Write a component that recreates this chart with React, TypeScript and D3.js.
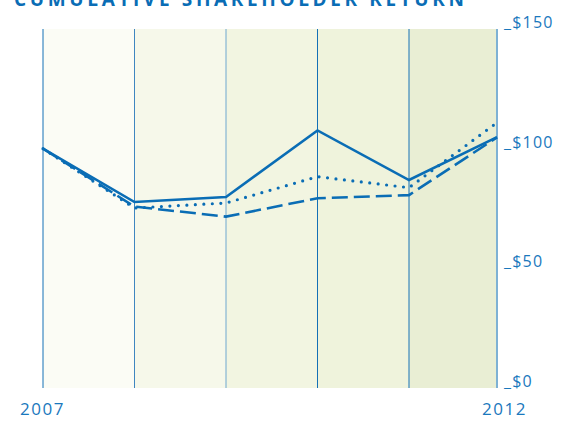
import React, { useEffect, useRef } from "react";
import * as d3 from "d3";

const years = [2007, 2008, 2009, 2010, 2011, 2012];
const solidSeries = [100, 77.7, 79.8, 107.6, 86.9, 104.8];
const dottedSeries = [100, 75.2, 77.3, 88.3, 83.7, 110.9];
const dashedSeries = [100, 75.8, 71.6, 79.3, 80.6, 104.7];
const yTicks = [0, 50, 100, 150];
const panelFills = ["#fbfcf5", "#f6f8ea", "#f2f5e1", "#eff3dc", "#e9eed4"];
const gridColors = ["#1470b6", "#3f86c0", "#6ea8d0", "#1470b6", "#1470b6", "#7eb1d4"];
const title = "CUMULATIVE SHAREHOLDER RETURN";

const BLUE = "#0a6db5";
const FONT = "'Open Sans', 'DejaVu Sans', sans-serif";

export default function App() {
  const svgRef = useRef<SVGSVGElement | null>(null);

  useEffect(() => {
    const svg = d3.select(svgRef.current);
    svg.selectAll("*").remove();

    const left = 43, right = 497, top = 29, bottom = 388;

    // last panel is a little narrower than the others
    const x = d3.scaleLinear()
      .domain([2007, 2011, 2012])
      .range([left, 409, right]);
    const y = d3.scaleLinear().domain([0, 150]).range([bottom, top]);

    // panels
    svg.append("g")
      .selectAll("rect")
      .data(years.slice(0, -1))
      .join("rect")
      .attr("x", (d) => x(d))
      .attr("y", top)
      .attr("width", (d, i) => x(years[i + 1]) - x(d))
      .attr("height", bottom - top)
      .attr("fill", (d, i) => panelFills[i]);

    // vertical grid lines
    svg.append("g")
      .selectAll("line")
      .data(years)
      .join("line")
      .attr("x1", (d) => x(d))
      .attr("x2", (d) => x(d))
      .attr("y1", top)
      .attr("y2", bottom)
      .attr("stroke", (d, i) => gridColors[i])
      .attr("stroke-width", (d, i) => (i === years.length - 1 ? 2 : 1));

    // title (cut off at the top, as in the source)
    svg.append("text")
      .attr("x", 14)
      .attr("y", 6)
      .attr("textLength", 450)
      .attr("lengthAdjust", "spacing")
      .attr("fill", BLUE)
      .style("font-family", FONT)
      .style("font-weight", 700)
      .style("font-size", "19px")
      .text(title);

    // y labels
    svg.append("g")
      .selectAll("text")
      .data(yTicks)
      .join("text")
      .attr("x", 504)
      .attr("y", (d) => y(d) - 1)
      .attr("fill", "#1a78bd")
      .style("font-family", FONT)
      .style("font-size", "16px")
      .style("letter-spacing", "1.2px")
      .text((d) => `_$${d}`);

    // x labels
    const xLabels = [years[0], years[years.length - 1]];
    svg.append("g")
      .selectAll("text")
      .data(xLabels)
      .join("text")
      .attr("x", (d, i) => (i === 0 ? x(d) - 23 : x(d) + 30))
      .attr("y", 415)
      .attr("text-anchor", (d, i) => (i === 0 ? "start" : "end"))
      .attr("fill", "#1a78bd")
      .style("font-family", FONT)
      .style("font-size", "17px")
      .style("letter-spacing", "1.5px")
      .text((d) => String(d));

    const line = d3.line<number>()
      .x((d, i) => x(years[i]))
      .y((d) => y(d));

    svg.append("path")
      .datum(dashedSeries)
      .attr("d", line)
      .attr("fill", "none")
      .attr("stroke", BLUE)
      .attr("stroke-width", 2.6)
      .attr("stroke-dasharray", "16 6");

    svg.append("path")
      .datum(dottedSeries)
      .attr("d", line)
      .attr("fill", "none")
      .attr("stroke", BLUE)
      .attr("stroke-width", 3.2)
      .attr("stroke-linecap", "round")
      .attr("stroke-dasharray", "0 8.5");

    svg.append("path")
      .datum(solidSeries)
      .attr("d", line)
      .attr("fill", "none")
      .attr("stroke", BLUE)
      .attr("stroke-width", 2.6);
  }, []);

  return (
    <svg
      ref={svgRef}
      width={566}
      height={421}
      style={{ position: "fixed", left: 0, top: 0, background: "#fff" }}
    />
  );
}
